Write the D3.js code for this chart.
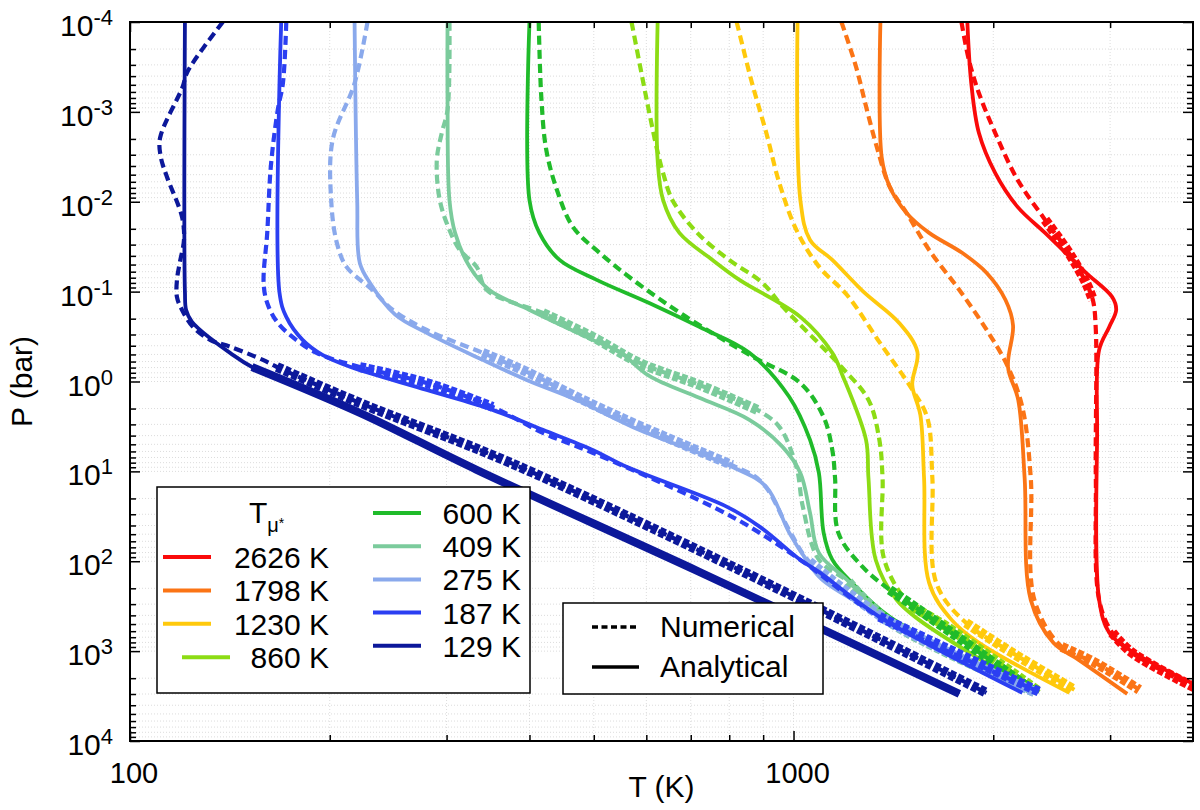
<!DOCTYPE html>
<html>
<head>
<meta charset="utf-8">
<script src="https://cdn.jsdelivr.net/npm/d3@7"></script>
<style>
  body { margin: 0; background: #fff; }
  svg { font-family: "Liberation Sans", Arial, Helvetica, sans-serif; }
</style>
</head>
<body>
<svg id="chart" width="1200" height="810"></svg>
<script>
// profiles, [T (K), P (bar)]
const ana2626 = [[1828,1e-4],[1853,4.8e-4],[1903,1.72e-3],[2014,4.8e-3],[2176,0.0114],[2394,0.0222],[2571,0.037],[2760,0.062],[3022,0.115],[3064,0.16],[2991,0.247],[2888,0.445],[2868,3.73],[2888,269],[2991,625],[3207,966],[4087,2490]];
const num2626 = [[1791,1e-4],[1838,2.65e-4],[1903,6.2e-4],[2014,1.72e-3],[2176,5.7e-3],[2394,0.0159],[2600,0.037],[2760,0.08],[2826,0.124],[2855,0.267],[2855,11.8],[2888,269],[3022,625],[3239,1045],[4087,2690]];
const ana1798 = [[1352,1e-4],[1358,3.2e-3],[1396,6.8e-3],[1480,0.0133],[1601,0.0222],[1795,0.037],[1955,0.062],[2087,0.124],[2142,0.237],[2105,0.69],[2181,1.6],[2230,11.8],[2278,269],[2464,809],[2690,1250],[3184,2990]];
const num1798 = [[1181,1e-4],[1243,3.2e-4],[1290,9.5e-4],[1339,2.65e-3],[1396,6.8e-3],[1480,0.0133],[1601,0.0344],[1778,0.096],[1955,0.267],[2105,0.69],[2212,1.92],[2278,11.8],[2307,269],[2536,896],[2850,1349],[3320,2690]];
const ana1230 = [[1014,1e-4],[1024,0.0096],[1059,0.0266],[1144,0.0444],[1274,0.1],[1443,0.223],[1537,0.469],[1510,1.09],[1553,2.36],[1573,11.8],[1601,174],[1731,449],[1904,809],[2605,2910]];
const num1230 = [[821,1e-4],[866,4.8e-4],[910,1.72e-3],[952,6.2e-3],[1010,0.0206],[1093,0.053],[1204,0.109],[1350,0.372],[1511,1.24],[1591,2.54],[1619,11.8],[1641,174],[1819,484],[2137,1045],[2650,2690]];
const ana860 = [[624,1e-4],[624,3.43e-3],[636,0.0096],[673,0.0222],[755,0.0444],[829,0.074],[1024,0.191],[1144,0.48],[1185,0.85],[1286,4.47],[1297,11.8],[1330,96],[1430,269],[1546,449],[2307,2840]];
const num860 = [[570,1e-4],[594,4.8e-4],[608,1.14e-3],[623,2.65e-3],[636,4.8e-3],[657,0.0096],[716,0.0222],[800,0.0444],[898,0.08],[964,0.148],[1181,0.69],[1297,1.6],[1347,4.47],[1362,11.8],[1370,96],[1509,321],[1703,537],[2347,2840]];
const ana600 = [[400,1e-4],[400,0.0096],[414,0.0222],[444,0.0444],[505,0.074],[606,0.134],[721,0.247],[858,0.48],[985,1.48],[1059,4.47],[1092,10.4],[1110,48],[1144,96],[1225,174],[1396,415],[2267,2840]];
const num600 = [[413,1e-4],[417,7.4e-4],[424,2.65e-3],[440,7.4e-3],[465,0.019],[510,0.037],[573,0.074],[689,0.191],[868,0.53],[1024,1.04],[1110,2.48],[1144,5.77],[1155,11.8],[1168,48],[1270,115],[1396,208],[1546,347],[2307,2840]];
const ana409 = [[301,1e-4],[301,7.4e-4],[303,0.0096],[309,0.0222],[325,0.053],[348,0.096],[400,0.16],[498,0.344],[547,0.469],[606,0.867],[721,1.52],[858,2.67],[962,5.3],[1024,10.4],[1059,29],[1092,80.7],[1204,161],[1396,449],[2267,2840]];
const num409 = [[303,1e-4],[301,9.5e-4],[295,1.72e-3],[290,3.43e-3],[293,0.0096],[303,0.0206],[314,0.0344],[333,0.053],[345,0.096],[419,0.173],[498,0.319],[586,0.62],[721,1.09],[882,2.07],[952,3.2],[1010,8.9],[1033,24.8],[1092,96],[1210,169],[1396,472],[2307,2840]];
const ana275 = [[218,1e-4],[220,0.0096],[222,0.048],[230,0.08],[251,0.18],[280,0.288],[340,0.575],[396,0.96],[471,1.6],[572,3.2],[808,8.9],[910,14.9],[985,48],[1045,96],[1105,161],[1396,449],[2267,2840]];
const num275 = [[228,1e-4],[218,4.8e-4],[202,2.06e-3],[201,0.0096],[205,0.0287],[212,0.053],[232,0.096],[249,0.16],[280,0.267],[340,0.48],[396,0.78],[471,1.48],[572,2.88],[808,8.5],[895,13.1],[985,44.8],[1056,101],[1396,472],[2307,2840]];
const ana187 = [[169,1e-4],[168,0.103],[172,0.191],[182,0.344],[195,0.506],[215,0.69],[280,1.24],[352,2.07],[419,3.45],[498,5.77],[560,8.9],[794,24.8],[890,41.4],[1023,96],[1096,134],[1347,415],[2213,2910]];
const num187 = [[172,1e-4],[170,4.8e-4],[167,9.5e-4],[163,4.1e-3],[161,0.0222],[159,0.08],[161,0.134],[167,0.223],[178,0.344],[191,0.48],[222,0.69],[280,1.04],[352,1.92],[419,3.73],[498,6.2],[808,32],[1023,96],[1347,415],[2347,2840]];
const ana129 = [[121,1e-4],[121,0.1],[121.5,0.16],[124,0.217],[133,0.344],[141.5,0.48],[152.7,0.69],[222,2.23],[333,9.6],[721,131],[1778,2990]];
const num129 = [[138,1e-4],[122,3.6e-4],[120,5.3e-4],[111,1.95e-3],[111.3,3.2e-3],[113.7,5.3e-3],[119.8,0.0148],[120.6,0.0266],[118.9,0.047],[117.7,0.074],[117.7,0.115],[119.8,0.16],[124.4,0.247],[132,0.344],[141.5,0.41],[158.6,0.575],[166.5,0.69],[222,1.73],[374,8.0],[829,125],[1953,2910]];

const tempLabels = ["2626 K", "1798 K", "1230 K", "860 K", "600 K", "409 K", "275 K", "187 K", "129 K"];
const tempColors = ["#fa0a0a", "#fb7415", "#ffc90c", "#8cdc14", "#20bb2a", "#7bcb9c", "#8aa9ec", "#2b3ff2", "#0c189a"];
const numData = [num2626, num1798, num1230, num860, num600, num409, num275, num187, num129];
const anaData = [ana2626, ana1798, ana1230, ana860, ana600, ana409, ana275, ana187, ana129];
// pressure ranges where the numerical profile is drawn heavy (dense points)
const numHeavy = [[[0.015, 0.13], [600, 1e5]], [[800, 1e5]], [[400, 1e5]], [[200, 1e5]], [[150, 1e5]],
                  [[0.15, 3], [100, 1e5]], [[0.4, 10], [100, 1e5]], [[0.6, 2.2], [100, 1e5]], [[0.6, 1e5]]];
const styleLabels = ["Numerical", "Analytical"];

const xMajorTicks = [100, 1000];
const xMinorTicks = [200, 300, 400, 500, 600, 700, 800, 900, 2000, 3000];
const yMajorExp = [-4, -3, -2, -1, 0, 1, 2, 3, 4];

const svg = d3.select("#chart");
const margin = { top: 22, right: 7, bottom: 69, left: 130 };
const width = +svg.attr("width") - margin.left - margin.right;
const height = +svg.attr("height") - margin.top - margin.bottom;
const g = svg.append("g").attr("transform", "translate(" + margin.left + "," + margin.top + ")");

// scales
const x = d3.scaleLog().domain([100, 4000]).range([0, width]);
const y = d3.scaleLog().domain([1e-4, 1e4]).range([0, height]);

const yMajorTicks = yMajorExp.map(e => Math.pow(10, e));
const yMinorTicks = [];
yMajorExp.slice(0, -1).forEach(e => {
    for (let m = 2; m <= 9; m++) yMinorTicks.push(m * Math.pow(10, e));
});

// grid
const grid = g.append("g").attr("stroke", "#dcdcdc").attr("stroke-width", 1).attr("stroke-dasharray", "1,2");
grid.selectAll(".vg").data(xMajorTicks.concat(xMinorTicks)).enter().append("line")
    .attr("x1", d => x(d)).attr("x2", d => x(d)).attr("y1", 0).attr("y2", height);
grid.selectAll(".hg").data(yMajorTicks.concat(yMinorTicks)).enter().append("line")
    .attr("y1", d => y(d)).attr("y2", d => y(d)).attr("x1", 0).attr("x2", width);

// curves
svg.append("defs").append("clipPath").attr("id", "plotClip")
    .append("rect").attr("width", width).attr("height", height);
const curves = g.append("g").attr("clip-path", "url(#plotClip)").attr("fill", "none");
const line = d3.line().x(d => x(d[0])).y(d => y(d[1])).curve(d3.curveCatmullRom.alpha(0.5));

tempLabels.forEach((label, i) => {
    const color = tempColors[i];
    curves.append("path").attr("d", line(numData[i]))
        .attr("stroke", color).attr("stroke-width", 4.2).attr("stroke-dasharray", "9,5");
    numHeavy[i].forEach(r => {
        const pts = numData[i].filter(d => d[1] >= r[0] && d[1] <= r[1]);
        if (pts.length > 1) {
            curves.append("path").attr("d", line(pts))
                .attr("stroke", color).attr("stroke-width", 10).attr("stroke-dasharray", "6,2.5");
        }
    });
    curves.append("path").attr("d", line(anaData[i]))
        .attr("stroke", color).attr("stroke-width", 3.8).attr("stroke-linejoin", "round");
    if (i === tempLabels.length - 1) {
        curves.append("path").attr("d", line(anaData[i].filter(d => d[1] >= 0.6)))
            .attr("stroke", color).attr("stroke-width", 8);
    }
});

// axes, ticks pointing inward on all four sides
function tickAxis(axis, ticks, size, transform) {
    g.append("g").attr("transform", transform)
        .call(axis.tickValues(ticks).tickSize(-size).tickFormat(""))
        .call(a => a.select(".domain").remove())
        .call(a => a.selectAll("line").attr("stroke", "#000").attr("stroke-width", 1.5));
}
tickAxis(d3.axisBottom(x), xMajorTicks, 10, "translate(0," + height + ")");
tickAxis(d3.axisBottom(x), xMinorTicks, 6, "translate(0," + height + ")");
tickAxis(d3.axisTop(x), xMajorTicks, 10, "translate(0,0)");
tickAxis(d3.axisTop(x), xMinorTicks, 6, "translate(0,0)");
tickAxis(d3.axisLeft(y), yMajorTicks, 10, "translate(0,0)");
tickAxis(d3.axisLeft(y), yMinorTicks, 6, "translate(0,0)");
tickAxis(d3.axisRight(y), yMajorTicks, 10, "translate(" + width + ",0)");
tickAxis(d3.axisRight(y), yMinorTicks, 6, "translate(" + width + ",0)");

g.append("rect").attr("width", width).attr("height", height)
    .attr("fill", "none").attr("stroke", "#000").attr("stroke-width", 2);

// tick labels
g.selectAll(".xl").data(xMajorTicks).enter().append("text")
    .attr("x", d => x(d) + 4).attr("y", height + 42)
    .attr("text-anchor", "middle").attr("font-size", 29).text(d => d);

const yl = g.selectAll(".yl").data(yMajorExp).enter().append("text")
    .attr("x", -17).attr("y", d => y(Math.pow(10, d)) + 14)
    .attr("text-anchor", "end").attr("font-size", 30);
yl.append("tspan").text("10");
yl.append("tspan").attr("dy", -11).attr("font-size", 22).text(d => String(d));

// axis titles
svg.append("text").attr("x", margin.left + width / 2).attr("y", 797)
    .attr("text-anchor", "middle").attr("font-size", 30).text("T (K)");
svg.append("text").attr("transform", "translate(32," + (margin.top + height / 2) + ") rotate(-90)")
    .attr("text-anchor", "middle").attr("font-size", 30).text("P (bar)");

// temperature legend
const leg = svg.append("g");
leg.append("rect").attr("x", 157).attr("y", 487).attr("width", 373).attr("height", 206)
    .attr("fill", "#fff").attr("stroke", "#000").attr("stroke-width", 1.5);
const title = leg.append("text").attr("x", 249).attr("y", 523).attr("font-size", 30);
title.append("tspan").text("T");
title.append("tspan").attr("dy", 9).attr("font-size", 20).text("\u03bc");
title.append("tspan").attr("dy", -4).attr("font-size", 14).text("*");

tempLabels.forEach((label, i) => {
    const left = i < 4;
    const row = left ? i : i - 4;
    const ly = left ? 557 + row * 33.4 : 513 + row * 33.2;
    const lx = left ? (label === "860 K" ? 182 : 163) : 373;
    const tx = left ? 329 : 521;
    leg.append("line").attr("x1", lx).attr("x2", lx + 48).attr("y1", ly).attr("y2", ly)
        .attr("stroke", tempColors[i]).attr("stroke-width", 4);
    leg.append("text").attr("x", tx).attr("y", ly + 11).attr("text-anchor", "end")
        .attr("font-size", 30).text(label);
});

// line style legend
const leg2 = svg.append("g");
leg2.append("rect").attr("x", 563).attr("y", 603).attr("width", 260).attr("height", 91)
    .attr("fill", "#fff").attr("stroke", "#000").attr("stroke-width", 1.5);
styleLabels.forEach((label, i) => {
    const ly = 627 + i * 40;
    leg2.append("line").attr("x1", 592).attr("x2", 639).attr("y1", ly).attr("y2", ly)
        .attr("stroke", "#000").attr("stroke-width", 3.5)
        .attr("stroke-dasharray", i === 0 ? "6,3.5" : null);
    leg2.append("text").attr("x", 660).attr("y", ly + 10).attr("font-size", 30).text(label);
});
</script>
</body>
</html>
